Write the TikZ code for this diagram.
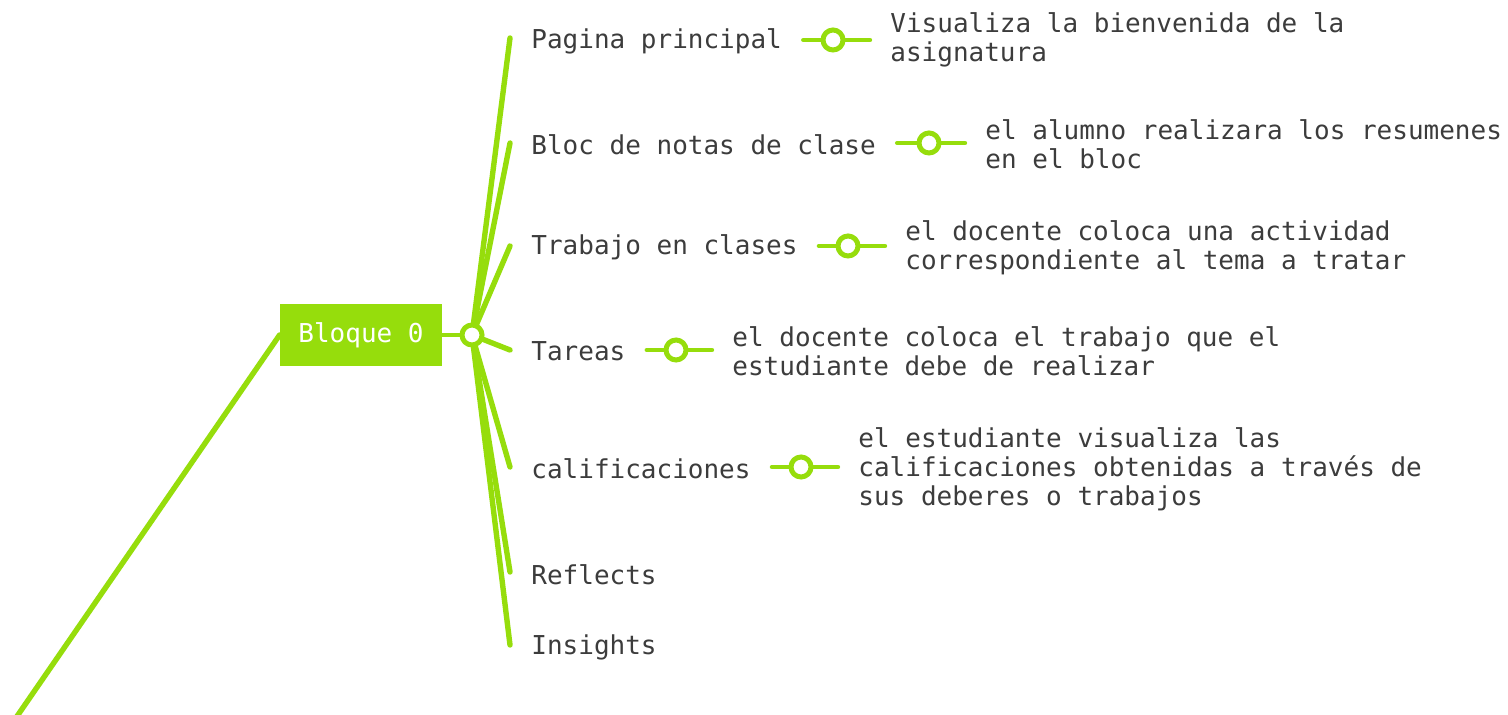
\documentclass[tikz,border=0pt]{standalone}
\usepackage{fontspec}
\setmainfont{DejaVu Sans Mono}
\definecolor{lime}{RGB}{150,221,12}
\definecolor{ink}{RGB}{60,60,60}
\tikzset{
  branch/.style={draw=lime, line width=2.7pt, line cap=round},
  link/.style={draw=lime, line width=2.2pt, line cap=round},
  ring/.style={circle, draw=lime, fill=white, line width=2.5pt, minimum size=10pt, inner sep=0pt},
  hubring/.style={circle, draw=lime, fill=white, line width=2.5pt, minimum size=10pt, inner sep=0pt},
  lbl/.style={text=ink, inner sep=0pt, anchor=west, align=left, font=\fontsize{13}{14.5}\selectfont},
  topic/.style={fill=lime, text=white, minimum width=81pt, minimum height=31pt, inner sep=0pt, font=\fontsize{13}{14.5}\selectfont}
}
\begin{document}
\begin{tikzpicture}[x=0.5pt,y=-0.5pt]
\useasboundingbox (0,0) rectangle (1508,715);
\begin{scope}
\clip (0,0) rectangle (1508,715);
\node[topic] (b0) at (361,335) {Bloque 0};
\coordinate (down) at (0,741);
\draw[branch] (b0.west) -- (down);
\coordinate (hc) at (472,335);
\coordinate (t1) at (510,38);
\coordinate (t2) at (510,143);
\coordinate (t3) at (510,246);
\coordinate (t4) at (510,350);
\coordinate (t5) at (510,467);
\coordinate (t6) at (510,572);
\coordinate (t7) at (510,645);
\foreach \t in {t1,t2,t3,t4,t5,t6,t7} \draw[branch] (hc) -- (\t);
\draw[link] (b0.east) -- (hc);
\node[hubring] (hub) at (hc) {};
\node[lbl] (n1) at (531,41.5) {Pagina principal};
\node[lbl] (n2) at (531,144.5) {Bloc de notas de clase};
\node[lbl] (n3) at (531,247.5) {Trabajo en clases};
\node[lbl] (n4) at (531,351.5) {Tareas};
\node[lbl] (n5) at (531,468.5) {calificaciones};
\node[lbl] (n6) at (531,574.5) {Reflects};
\node[lbl] (n7) at (531,647.5) {Insights};
\node[lbl] (r1) at (890,40) {Visualiza la bienvenida de la\\asignatura};
\node[lbl] (r2) at (985,144) {el alumno realizara los resumenes\\en el bloc};
\node[lbl] (r3) at (905,247.5) {el docente coloca una actividad\\correspondiente al tema a tratar};
\node[lbl] (r4) at (732,351) {el docente coloca el trabajo que el\\estudiante debe de realizar};
\node[lbl] (r5) at (858,469.5) {el estudiante visualiza las\\calificaciones obtenidas a través de\\sus deberes o trabajos};
\node[ring] (k1) at (833,40) {};
\node[ring] (k2) at (929,143) {};
\node[ring] (k3) at (848,246) {};
\node[ring] (k4) at (676,350) {};
\node[ring] (k5) at (801,467) {};
\foreach \i in {1,...,5} {
  \draw[link, shorten <=10.5pt] (n\i.east |- k\i) -- (k\i);
  \draw[link, shorten >=10pt] (k\i) -- (r\i.west |- k\i);
}
\end{scope}
\end{tikzpicture}
\end{document}
